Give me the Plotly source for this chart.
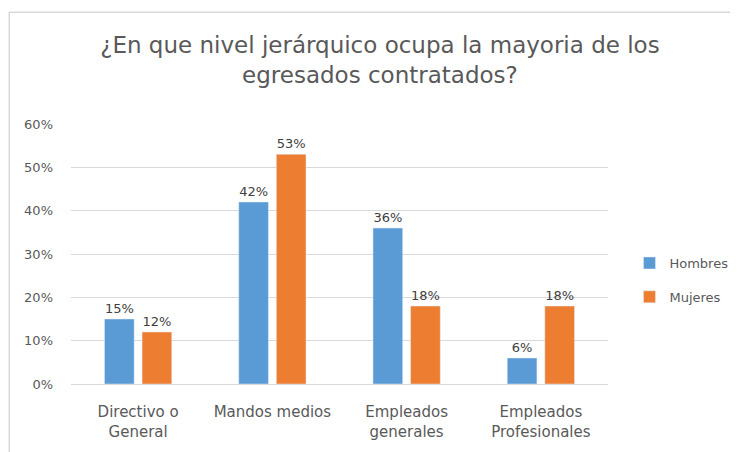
import plotly.graph_objects as go

# Nivel jerárquico de los egresados contratados (fracciones)
categorias = ["Directivo o<br>General", "Mandos medios",
              "Empleados<br>generales", "Empleados<br>Profesionales"]
hombres = [0.15, 0.42, 0.36, 0.06]
mujeres = [0.12, 0.53, 0.18, 0.18]

AZUL = "#5B9BD5"
NARANJA = "#ED7D31"
GRIS = "#595959"
FUENTE = "DejaVu Sans, Liberation Sans, sans-serif"

fig = go.Figure()
for nombre, vals, color in [("Hombres", hombres, AZUL), ("Mujeres", mujeres, NARANJA)]:
    fig.add_trace(go.Bar(
        x=categorias, y=vals, name=nombre, legendgroup=nombre, marker_color=color,
        text=[f"{v:.0%}" for v in vals], textposition="outside",
        textfont=dict(size=13, color="#404040"), cliponaxis=False,
    ))

# la página tiene 8px de margen en body: márgenes compensados
fig.update_layout(
    width=738, height=452,
    margin=dict(l=63, r=130, t=116, b=76),
    paper_bgcolor="white", plot_bgcolor="white",
    font=dict(family=FUENTE, color=GRIS),
    title=dict(text="¿En que nivel jerárquico ocupa la mayoria de los<br>egresados contratados?",
               x=0.504, xanchor="center", xref="container",
               y=0.90, yanchor="top", yref="container",
               font=dict(size=23, color=GRIS)),
    barmode="group", bargap=0.44, bargroupgap=0.21,
    legend=dict(x=1.04, y=0.40, xanchor="left", yanchor="middle",
                font=dict(size=13, color=GRIS), traceorder="grouped",
                tracegroupgap=14),
    xaxis=dict(showline=True, linecolor="#D9D9D9", tickfont=dict(size=15, color=GRIS),
               ticks="", ticklabelstandoff=14),
    yaxis=dict(range=[0, 0.6], dtick=0.1, tickformat=".0%", gridcolor="#D9D9D9",
               zeroline=False, tickfont=dict(size=13, color=GRIS), ticklabelstandoff=17),
)

# marco exterior del gráfico
fig.add_shape(type="rect", xref="paper", yref="paper",
              x0=-0.115, x1=1.4, y0=-0.4, y1=1.43,
              line=dict(color="#D9D9D9", width=1.5), layer="below")

fig.write_html("out.html")
